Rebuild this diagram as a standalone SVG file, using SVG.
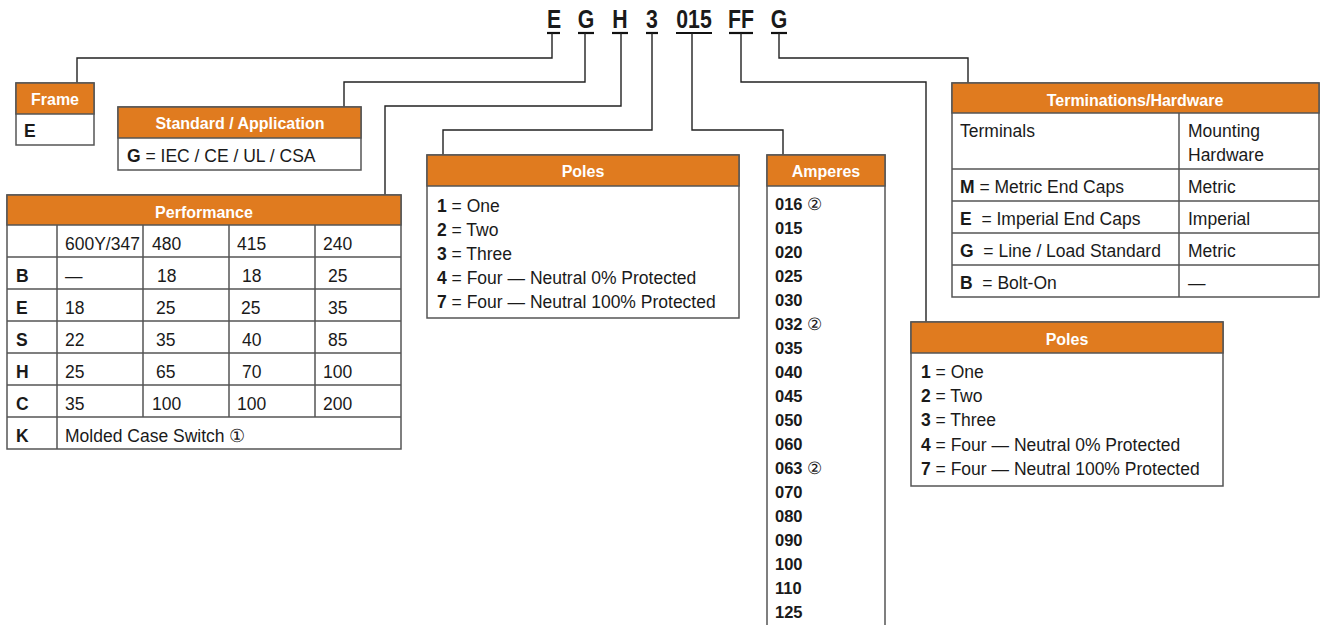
<svg xmlns="http://www.w3.org/2000/svg" width="1323" height="625" viewBox="0 0 1323 625">
<style>
text{font-family:'Liberation Sans',Arial,sans-serif;font-size:17.5px;fill:#1a1a1a}
.b{font-weight:bold}
.hd{font-weight:bold;font-size:16px;fill:#fff;text-anchor:middle}
.am{font-weight:bold;font-size:16.5px}
.code{font-weight:bold;font-size:25px;text-anchor:middle}
.hdr{fill:#E07B1F;stroke:#555;stroke-width:1.5}
.box{fill:#fff;stroke:#555;stroke-width:1.5}
.grid{stroke:#555;stroke-width:1.5;fill:none}
.conn{fill:none;stroke:#222;stroke-width:1.4}
.ul{stroke:#111;stroke-width:2.2}
</style>
<rect width="1323" height="625" fill="#fff"/>
<g id="code">
<text class="code" transform="translate(554,28) scale(0.85,1)">E</text>
<text class="code" transform="translate(586,28) scale(0.85,1)">G</text>
<text class="code" transform="translate(620,28) scale(0.85,1)">H</text>
<text class="code" transform="translate(652,28) scale(0.85,1)">3</text>
<text class="code" transform="translate(694,28) scale(0.85,1)">015</text>
<text class="code" transform="translate(741,28) scale(0.85,1)">FF</text>
<text class="code" transform="translate(779,28) scale(0.85,1)">G</text>
<line class="ul" x1="547" y1="33" x2="560" y2="33"/>
<line class="ul" x1="578" y1="33" x2="594" y2="33"/>
<line class="ul" x1="612" y1="33" x2="628" y2="33"/>
<line class="ul" x1="646" y1="33" x2="658" y2="33"/>
<line class="ul" x1="676" y1="33" x2="712" y2="33"/>
<line class="ul" x1="729" y1="33" x2="753" y2="33"/>
<line class="ul" x1="771" y1="33" x2="787" y2="33"/>
</g>
<g id="connectors">
<polyline class="conn" points="552,33 552,58 77,58 77,83"/>
<polyline class="conn" points="585,33 585,82 344,82 344,107"/>
<polyline class="conn" points="621,33 621,106 385,106 385,195"/>
<polyline class="conn" points="652,33 652,130 443,130 443,155"/>
<polyline class="conn" points="692,33 692,130 783,130 783,155"/>
<polyline class="conn" points="741,33 741,82 926,82 926,322"/>
<polyline class="conn" points="779,33 779,58 968,58 968,83"/>
</g>
<g id="frame">
<rect class="box" x="16" y="83" width="78" height="62"/>
<rect class="hdr" x="16" y="83" width="78" height="31"/>
<text class="hd" x="55" y="105">Frame</text>
<text class="b" x="24" y="137">E</text>
</g>
<g id="standard">
<rect class="box" x="118" y="107" width="243" height="63"/>
<rect class="hdr" x="118" y="107" width="243" height="31"/>
<text class="hd" x="240" y="129">Standard / Application</text>
<text x="127" y="162"><tspan class="b">G</tspan> = IEC / CE / UL / CSA</text>
</g>
<g id="performance">
<rect class="box" x="7" y="195" width="394" height="254"/>
<rect class="hdr" x="7" y="195" width="394" height="30"/>
<text class="hd" x="204" y="218">Performance</text>
<path class="grid" d="M7,257H401M7,289H401M7,321H401M7,353H401M7,385H401M7,417H401M57,225V449M143,225V417M229,225V417M315,225V417"/>
<text x="65" y="250">600Y/347</text><text x="152" y="250">480</text><text x="237" y="250">415</text><text x="323" y="250">240</text>
<text class="b" x="16" y="282">B</text><text x="65" y="282">—</text><text x="157" y="282">18</text><text x="242" y="282">18</text><text x="328" y="282">25</text>
<text class="b" x="16" y="314">E</text><text x="65" y="314">18</text><text x="156" y="314">25</text><text x="241" y="314">25</text><text x="328" y="314">35</text>
<text class="b" x="16" y="346">S</text><text x="65" y="346">22</text><text x="156" y="346">35</text><text x="242" y="346">40</text><text x="328" y="346">85</text>
<text class="b" x="16" y="378">H</text><text x="65" y="378">25</text><text x="156" y="378">65</text><text x="242" y="378">70</text><text x="323" y="378">100</text>
<text class="b" x="16" y="410">C</text><text x="65" y="410">35</text><text x="152" y="410">100</text><text x="237" y="410">100</text><text x="323" y="410">200</text>
<text class="b" x="16" y="442">K</text><text x="65" y="442">Molded Case Switch ①</text>
</g>
<g id="poles">
<rect class="box" x="427" y="155" width="312" height="163"/>
<rect class="hdr" x="427" y="155" width="312" height="31"/>
<text class="hd" x="583" y="177">Poles</text>
<text x="437" y="212"><tspan class="b">1</tspan> = One</text>
<text x="437" y="236"><tspan class="b">2</tspan> = Two</text>
<text x="437" y="260"><tspan class="b">3</tspan> = Three</text>
<text x="437" y="284"><tspan class="b">4</tspan> = Four — Neutral 0% Protected</text>
<text x="437" y="308"><tspan class="b">7</tspan> = Four — Neutral 100% Protected</text>
</g>
<g id="amperes">
<rect class="box" x="767" y="155" width="118" height="480"/>
<rect class="hdr" x="767" y="155" width="118" height="31"/>
<text class="hd" x="826" y="177">Amperes</text>
<text class="am" x="775" y="210">016 <tspan font-weight="normal">②</tspan></text>
<text class="am" x="775" y="234">015</text>
<text class="am" x="775" y="258">020</text>
<text class="am" x="775" y="282">025</text>
<text class="am" x="775" y="306">030</text>
<text class="am" x="775" y="330">032 <tspan font-weight="normal">②</tspan></text>
<text class="am" x="775" y="354">035</text>
<text class="am" x="775" y="378">040</text>
<text class="am" x="775" y="402">045</text>
<text class="am" x="775" y="426">050</text>
<text class="am" x="775" y="450">060</text>
<text class="am" x="775" y="474">063 <tspan font-weight="normal">②</tspan></text>
<text class="am" x="775" y="498">070</text>
<text class="am" x="775" y="522">080</text>
<text class="am" x="775" y="546">090</text>
<text class="am" x="775" y="570">100</text>
<text class="am" x="775" y="594">110</text>
<text class="am" x="775" y="618">125</text>
</g>
<g id="terminations">
<rect class="box" x="952" y="83" width="367" height="214"/>
<rect class="hdr" x="952" y="83" width="367" height="30"/>
<text class="hd" x="1135" y="106">Terminations/Hardware</text>
<path class="grid" d="M952,169H1319M952,201H1319M952,233H1319M952,265H1319M1179,113V297"/>
<text x="960" y="137">Terminals</text>
<text x="1188" y="137">Mounting</text>
<text x="1188" y="161">Hardware</text>
<text x="960" y="193"><tspan class="b">M</tspan> = Metric End Caps</text><text x="1188" y="193">Metric</text>
<text x="960" y="225"><tspan class="b">E</tspan>&#160; = Imperial End Caps</text><text x="1188" y="225">Imperial</text>
<text x="960" y="257"><tspan class="b">G</tspan>&#160; = Line / Load Standard</text><text x="1188" y="257">Metric</text>
<text x="960" y="289"><tspan class="b">B</tspan>&#160; = Bolt-On</text><text x="1188" y="289">—</text>
</g>
<g id="poles2">
<rect class="box" x="911" y="322" width="312" height="164"/>
<rect class="hdr" x="911" y="322" width="312" height="31"/>
<text class="hd" x="1067" y="345">Poles</text>
<text x="921" y="378"><tspan class="b">1</tspan> = One</text>
<text x="921" y="402"><tspan class="b">2</tspan> = Two</text>
<text x="921" y="426"><tspan class="b">3</tspan> = Three</text>
<text x="921" y="451"><tspan class="b">4</tspan> = Four — Neutral 0% Protected</text>
<text x="921" y="475"><tspan class="b">7</tspan> = Four — Neutral 100% Protected</text>
</g>
</svg>
